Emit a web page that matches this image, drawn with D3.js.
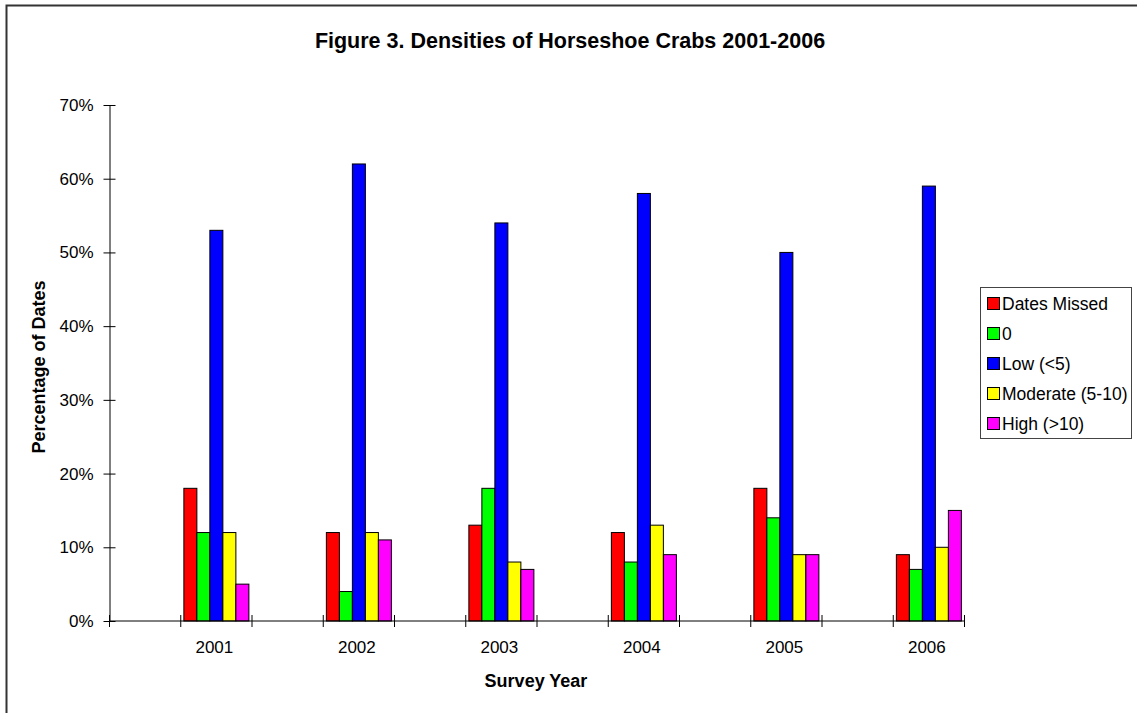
<!DOCTYPE html>
<html>
<head>
<meta charset="utf-8">
<script src="https://cdn.jsdelivr.net/npm/d3@7"></script>
<style>
  html, body { margin: 0; padding: 0; background: #fff; }
  svg { display: block; font-family: "Liberation Sans", Arial, sans-serif; }
</style>
</head>
<body>
<svg id="chart" width="1137" height="713"></svg>
<script>
// Survey years; the axis alternates an empty slot before each year
const years = ["2001", "2002", "2003", "2004", "2005", "2006"];
const seriesNames = ["Dates Missed", "0", "Low (<5)", "Moderate (5-10)", "High (>10)"];
const seriesColors = ["#FF0000", "#00FF00", "#0000FF", "#FFFF00", "#FF00FF"];

// Percentage of dates per density class, one array per series (index = year)
const datesMissed = [18, 12, 13, 12, 18, 9];
const zeroCrabs   = [12, 4, 18, 8, 14, 7];
const lowDensity  = [53, 62, 54, 58, 50, 59];
const moderate    = [12, 12, 8, 13, 9, 10];
const highDensity = [5, 11, 7, 9, 9, 15];
const seriesValues = [datesMissed, zeroCrabs, lowDensity, moderate, highDensity];

const yTicks = [0, 10, 20, 30, 40, 50, 60, 70];

const svg = d3.select("#chart");

// outer frame
svg.append("rect")
  .attr("x", 6.5).attr("y", 5.5)
  .attr("width", 1200).attr("height", 800)
  .attr("fill", "none").attr("stroke", "#333").attr("stroke-width", 2);

const plot = { left: 109.5, right: 964.5, top: 105, bottom: 621 };

// twelve slots: a blank one before every year
const slots = [];
years.forEach(y => { slots.push("gap-" + y); slots.push(y); });

const x = d3.scaleBand().domain(slots).range([plot.left, plot.right]).padding(0);
const y = d3.scaleLinear().domain([0, 70]).range([plot.bottom, plot.top]);

// bars within a slot: gap width ~48% of a bar
const gapRatio = 0.48;
const barW = x.bandwidth() / (seriesNames.length + gapRatio);
const groupPad = (x.bandwidth() - barW * seriesNames.length) / 2;

const rows = [];
years.forEach((yr, i) => {
  seriesValues.forEach((vals, s) => {
    rows.push({ year: yr, s, value: vals[i] });
  });
});

svg.append("g").selectAll("rect")
  .data(rows)
  .join("rect")
  .attr("x", d => x(d.year) + groupPad + d.s * barW)
  .attr("y", d => y(d.value))
  .attr("width", barW)
  .attr("height", d => y(0) - y(d.value))
  .attr("fill", d => seriesColors[d.s])
  .attr("stroke", "#000")
  .attr("stroke-width", 1);

// y axis
const yAxis = svg.append("g")
  .attr("transform", `translate(${plot.left},0)`)
  .call(d3.axisLeft(y).tickValues(yTicks).tickSize(0).tickPadding(16)
    .tickFormat(d => d + "%"));
yAxis.select(".domain").attr("stroke", "#000").attr("stroke-width", 1);
yAxis.selectAll(".tick text")
  .attr("font-size", 17).attr("fill", "#000")
  .attr("font-family", "'Liberation Sans', Arial, sans-serif");
yAxis.selectAll(".tick").append("line")
  .attr("x1", -6).attr("x2", 6).attr("stroke", "#000");

// x axis: ticks at slot boundaries, labels under the year slots
const xAxisG = svg.append("g").attr("transform", `translate(0,${plot.bottom})`);
xAxisG.append("line")
  .attr("x1", plot.left).attr("x2", plot.right)
  .attr("stroke", "#000");
const bounds = slots.map(s => x(s)).concat([plot.right]);
xAxisG.selectAll("line.tk")
  .data(bounds)
  .join("line")
  .attr("class", "tk")
  .attr("x1", d => d).attr("x2", d => d)
  .attr("y1", -6).attr("y2", 6)
  .attr("stroke", "#000");
xAxisG.selectAll("text")
  .data(years)
  .join("text")
  .attr("x", d => x(d) + x.bandwidth() / 2 - 2)
  .attr("y", 32)
  .attr("text-anchor", "middle")
  .attr("font-size", 17)
  .attr("fill", "#000")
  .text(d => d);

// title and axis titles
svg.append("text")
  .attr("x", 570).attr("y", 48)
  .attr("text-anchor", "middle")
  .attr("font-size", 21.5).attr("font-weight", "bold")
  .text("Figure 3. Densities of Horseshoe Crabs 2001-2006");

svg.append("text")
  .attr("x", 536).attr("y", 687)
  .attr("text-anchor", "middle")
  .attr("font-size", 18).attr("font-weight", "bold")
  .text("Survey Year");

svg.append("text")
  .attr("transform", "translate(45,367) rotate(-90)")
  .attr("text-anchor", "middle")
  .attr("font-size", 18).attr("font-weight", "bold")
  .text("Percentage of Dates");

// legend
const legend = svg.append("g");
legend.append("rect")
  .attr("x", 980.5).attr("y", 287.5)
  .attr("width", 151).attr("height", 151)
  .attr("fill", "#fff").attr("stroke", "#444").attr("stroke-width", 1);
const item = legend.selectAll("g.item")
  .data(seriesNames)
  .join("g")
  .attr("class", "item")
  .attr("transform", (d, i) => `translate(987,${303 + i * 30})`);
item.append("rect")
  .attr("x", 0.5).attr("y", -5.5)
  .attr("width", 12).attr("height", 12)
  .attr("fill", (d, i) => seriesColors[i])
  .attr("stroke", "#000");
item.append("text")
  .attr("x", 15).attr("y", 6.5)
  .attr("font-size", 17.5)
  .text(d => d);
</script>
</body>
</html>
